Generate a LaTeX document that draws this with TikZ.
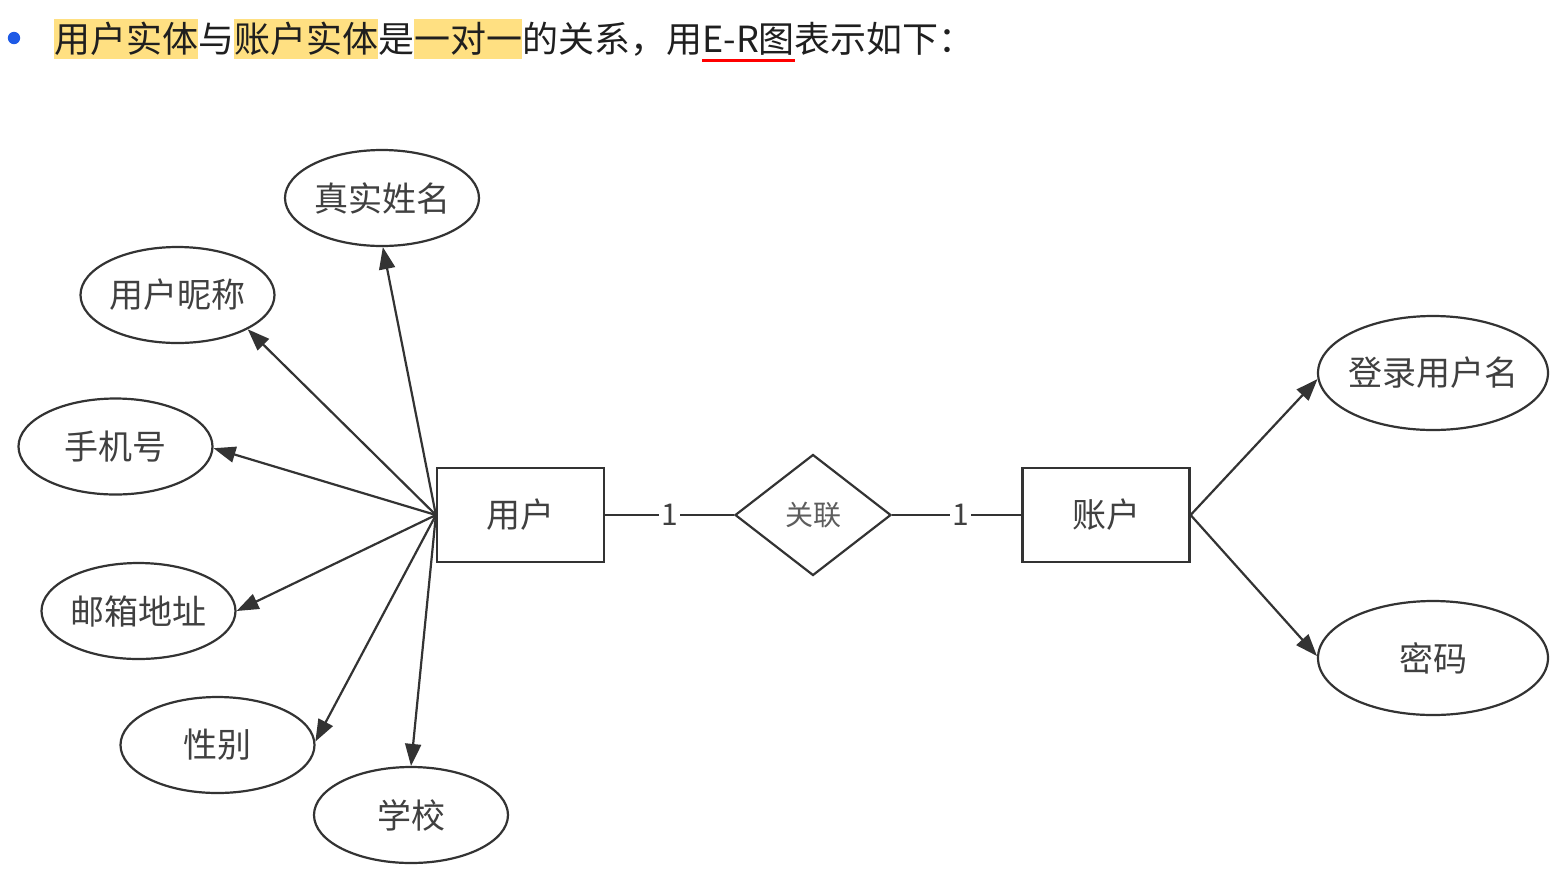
\documentclass[tikz,border=0pt]{standalone}
\usepackage{fontspec}
\setmainfont{Noto Sans CJK SC}
\usetikzlibrary{shapes.geometric,arrows.meta}
\definecolor{hl}{RGB}{255,224,130}
\definecolor{bul}{RGB}{30,90,230}
\definecolor{ln}{RGB}{51,51,51}
\definecolor{tx}{RGB}{64,64,64}
\newcommand{\hlbox}[1]{{\setlength{\fboxsep}{0pt}\colorbox{hl}{\rule[-3.5pt]{0pt}{20pt}#1}}}
\newcommand{\redul}[1]{\sbox0{#1}\rlap{\color{red}\rule[-5pt]{\wd0}{1.5pt}}\usebox0}
\tikzset{
  ent/.style={draw=ln, line width=1.1pt, minimum width=83.5pt, minimum height=47pt, inner sep=0pt, font=\fontsize{17pt}{19pt}\selectfont, text=tx},
  attr/.style={ellipse, draw=ln, line width=1.1pt, minimum width=97pt, minimum height=48pt, inner sep=0pt, font=\fontsize{17pt}{19pt}\selectfont, text=tx},
  attrL/.style={attr, inner xsep=-6pt, minimum width=115pt, minimum height=57pt},
  rel/.style={diamond, draw=ln, line width=1.1pt, minimum width=78pt, minimum height=60.5pt, inner sep=0pt, font=\fontsize{14pt}{16pt}\selectfont, text=tx!85},
  conn/.style={draw=ln, line width=1.1pt},
  arr/.style={conn, -{Triangle[length=11pt,width=8pt]}},
  card/.style={fill=white, inner sep=1pt, font=\fontsize{15pt}{16pt}\selectfont, text=tx}
}
\begin{document}
\begin{tikzpicture}[x=0.5pt,y=-0.5pt]
\useasboundingbox[fill=white] (0,0) rectangle (1564,874);
\fill[bul] (14,38) circle (3.1pt);
\node[anchor=base west, inner sep=0pt, font=\fontsize{18pt}{20pt}\selectfont, text=black!88] (title) at (54,52)
  {\hlbox{用户实体}与\hlbox{账户实体}是\hlbox{一对一}的关系，用\redul{E-R图}表示如下：};

\node[ent] (user) at (520.5,515) {用户};
\node[rel] (link) at (813,515) {关联};
\node[ent] (acct) at (1106,515) {账户};

\node[attr] (name) at (382,198) {真实姓名};
\node[attr] (nick) at (177.5,295) {用户昵称};
\node[attr] (phone) at (115.5,446.5) {手机号};
\node[attr] (mail) at (138.5,611) {邮箱地址};
\node[attr] (sex) at (217.5,745) {性别};
\node[attr] (school) at (411,815) {学校};
\node[attrL] (login) at (1433,373) {登录用户名};
\node[attrL] (pwd) at (1433,658) {密码};

\draw[arr] (user.west) -- (name.-89);
\draw[arr] (user.west) -- (nick.-26);
\draw[arr] (user.west) -- (phone.-1);
\draw[arr] (user.west) -- (mail.0.5);
\draw[arr] (user.west) -- (sex.2.3);
\draw[arr] (user.west) -- (school.90);
\draw[arr] (acct.east) -- (login.-177.6);
\draw[arr] (acct.east) -- (pwd.179);

\draw[conn] (user) -- node[card] (c1) {1} (link);
\draw[conn] (link) -- node[card, pos=0.53] (c2) {1} (acct);
\end{tikzpicture}
\end{document}
